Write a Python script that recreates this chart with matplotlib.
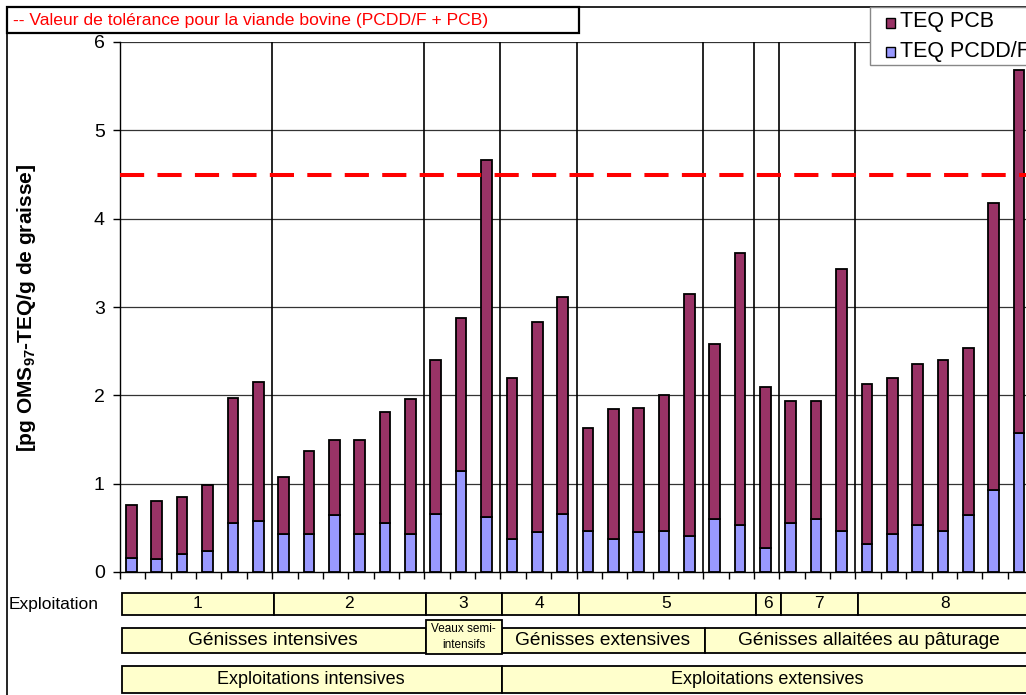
import matplotlib
matplotlib.use("Agg")
import matplotlib.pyplot as plt
from matplotlib.patches import Rectangle
from matplotlib.transforms import blended_transform_factory
import numpy as np

plt.rcParams['font.family'] = ['Liberation Sans', 'DejaVu Sans']
plt.rcParams['mathtext.fontset'] = 'custom'
plt.rcParams['mathtext.rm'] = 'Liberation Sans'
plt.rcParams['mathtext.bf'] = 'Liberation Sans:bold'

# ---- data ----
pcdd = [0.16, 0.15, 0.20, 0.24, 0.55, 0.58,
        0.43, 0.43, 0.64, 0.43, 0.56, 0.43,
        0.66, 1.14, 0.62,
        0.37, 0.45, 0.66,
        0.46, 0.37, 0.45, 0.46, 0.41, 0.60, 0.53,
        0.27,
        0.56, 0.60, 0.46,
        0.32, 0.43, 0.53, 0.46, 0.64, 0.93, 1.57]
pcb = [0.60, 0.65, 0.65, 0.75, 1.42, 1.57,
       0.65, 0.94, 0.86, 1.07, 1.25, 1.53,
       1.74, 1.73, 4.04,
       1.83, 2.38, 2.45,
       1.17, 1.47, 1.41, 1.54, 2.74, 1.98, 3.08,
       1.82,
       1.38, 1.34, 2.97,
       1.81, 1.77, 1.82, 1.94, 1.90, 3.25, 4.11]
tolerance = 4.5
separators = [6, 12, 15, 18, 23, 25, 26, 29]
exploit_labels = ['1', '2', '3', '4', '5', '6', '7', '8']
exploit_bounds = [0, 6, 12, 15, 18, 25, 26, 29, 36]
type_labels = ['Génisses intensives', 'Veaux semi-\nintensifs',
               'Génisses extensives', 'Génisses allaitées au pâturage']
type_bounds = [0, 12, 15, 23, 36]
system_labels = ['Exploitations intensives', 'Exploitations extensives']
system_bounds = [0, 15, 36]
series_names = ['TEQ PCB', 'TEQ PCDD/F']
yticks = [0, 1, 2, 3, 4, 5, 6]

W, H = 1026, 695
fig = plt.figure(figsize=(W / 100, H / 100), dpi=100)

def fy(py):
    return 1 - py / H

def fx(px):
    return px / W

ax = fig.add_axes([fx(120), fy(572), fx(1033) - fx(120), fy(42) - fy(572)])

n = len(pcdd)
x = np.arange(n) + 0.45
c_blue = '#9999FF'
c_red = '#993366'
ax.bar(x, pcdd, width=0.42, color=c_blue, edgecolor='black', linewidth=1.3, zorder=3)
ax.bar(x, pcb, width=0.42, bottom=pcdd, color=c_red, edgecolor='black', linewidth=1.3, zorder=3)

ax.set_xlim(0, n)
ax.set_ylim(0, 6)
for yv in yticks[1:]:
    ax.axhline(yv, color='#333333', lw=0.9, zorder=1)
for s in separators:
    ax.axvline(s, color='black', lw=1.2, zorder=2)

ax.axhline(tolerance, color='#FF0000', lw=2.9, dashes=(6, 3.3), zorder=4)

ax.set_yticks(yticks)
ax.set_yticklabels([str(v) for v in yticks], fontsize=14)
ax.set_xticks(np.arange(0, n + 1))
ax.set_xticklabels([])
ax.tick_params(axis='y', direction='out', length=5, width=1, pad=6)
ax.tick_params(axis='x', direction='out', length=5, width=1)
for sp in ['top', 'right']:
    ax.spines[sp].set_visible(False)
ax.spines['left'].set_linewidth(1.0)
ax.spines['bottom'].set_linewidth(1.0)

fig.text(fx(27), fy(308), r'[pg OMS$_{\mathbf{97}}$-TEQ/g de graisse]', rotation=90,
         fontsize=15, fontweight='bold', ha='center', va='center')

# outer frame
fig.add_artist(Rectangle((fx(7), fy(700)), fx(1100), fy(7) - fy(700), transform=fig.transFigure,
                         fill=False, edgecolor='black', lw=1.2))
# red tolerance note box
fig.add_artist(Rectangle((fx(7), fy(33)), fx(579) - fx(7), fy(7) - fy(33), transform=fig.transFigure,
                         facecolor='white', edgecolor='black', lw=1.6))
fig.text(fx(13), fy(20), '-- Valeur de tolérance pour la viande bovine (PCDD/F + PCB)',
         color='#FF0000', fontsize=12.6, ha='left', va='center')

# legend
fig.add_artist(Rectangle((fx(870), fy(65)), fx(300), fy(7) - fy(65), transform=fig.transFigure,
                         facecolor='white', edgecolor='#888888', lw=1.0))
for i, (name, col) in enumerate(zip(series_names, [c_red, c_blue])):
    cy = 23 + i * 29
    fig.add_artist(Rectangle((fx(886), fy(cy + 5)), fx(9), fy(cy - 5) - fy(cy + 5),
                             transform=fig.transFigure, facecolor=col, edgecolor='black', lw=1.0))
    fig.text(fx(900), fy(cy - 1), name, fontsize=15.5, ha='left', va='center')

# category tables
tr = blended_transform_factory(ax.transData, fig.transFigure)
cell_color = '#FFFFCC'

def draw_row(bounds, labels, ytop, ybot, fs):
    for i, lab in enumerate(labels):
        x0, x1 = bounds[i], bounds[i + 1]
        r = Rectangle((x0 + 0.08, fy(ybot)), x1 - x0, fy(ytop) - fy(ybot), transform=tr,
                      facecolor=cell_color, edgecolor='black', lw=1.3, clip_on=False)
        fig.add_artist(r)
        fig.text((x0 + x1) / 2 + 0.04, fy((ytop + ybot) / 2), lab, transform=tr,
                 ha='center', va='center', fontsize=fs)

draw_row(exploit_bounds, exploit_labels, 593, 615, 12.5)
fig.text(fx(9), fy(605), 'Exploitation', fontsize=12.5, ha='left', va='center')

# row 2 (types), with the small "Veaux" cell
for i, lab in enumerate(type_labels):
    x0, x1 = type_bounds[i], type_bounds[i + 1]
    small = i == 1
    ytop, ybot = (620, 654) if small else (628, 653)
    r = Rectangle((x0 + 0.08, fy(ybot)), x1 - x0, fy(ytop) - fy(ybot), transform=tr,
                  facecolor=cell_color, edgecolor='black', lw=1.3, clip_on=False,
                  zorder=3 if small else 2)
    fig.add_artist(r)
    t = fig.text((x0 + x1) / 2 + 0.04, fy((ytop + ybot) / 2), lab, transform=tr,
                 ha='center', va='center', fontsize=8.5 if small else 13.8,
                 linespacing=1.35)
    t.set_zorder(4)

draw_row(system_bounds, system_labels, 666, 693, 13)

fig.savefig('out.png', dpi=100)
